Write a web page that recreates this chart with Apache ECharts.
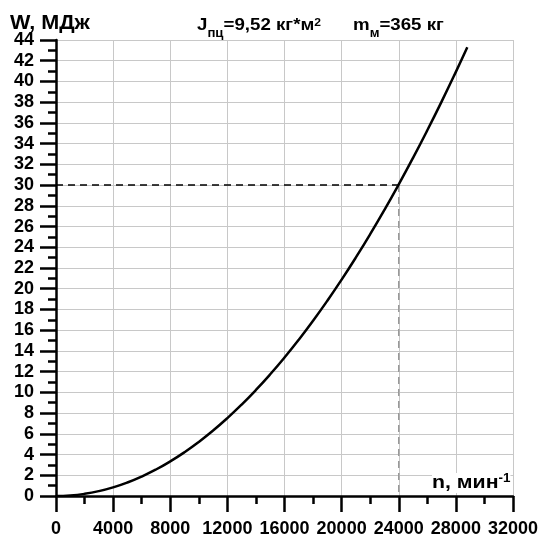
<!DOCTYPE html>
<html><head><meta charset="utf-8">
<script src="https://cdn.jsdelivr.net/npm/echarts@6/dist/echarts.min.js"></script>
<style>html,body{margin:0;padding:0;background:#fff}#c{width:539px;height:536px}</style>
</head><body><div id="c"></div>
<script>
// n, rpm
var speeds = [0,1000,2000,3000,4000,5000,6000,7000,8000,9000,10000,11000,12000,13000,14000,15000,16000,17000,18000,19000,20000,21000,22000,23000,24000,25000,26000,27000,28000,28800];
// W, MJ
var energy = [0,0.052,0.209,0.470,0.835,1.305,1.879,2.558,3.341,4.228,5.220,6.316,7.517,8.822,10.231,11.745,13.363,15.085,16.912,18.844,20.880,23.020,25.264,27.613,30.067,32.624,35.287,38.053,40.924,43.296];
var refPoint = [24000, 30];
var xTicks = {min:0, max:32000, step:4000};
var yTicks = {min:0, max:44, step:2};

var chart = echarts.init(document.getElementById('c'));
var curve = speeds.map(function(n,i){return [n, energy[i]];});
var F = '"Liberation Sans", Arial, sans-serif';
function rs(size, lh, va){
  return {fontFamily:F, fontWeight:'bold', fontSize:size, color:'#000', lineHeight:lh, verticalAlign:va};
}
chart.setOption({
  animation:false,
  grid:{left:56,right:26,top:40,bottom:40,outerBoundsMode:'none',containLabel:false},
  xAxis:{type:'value',min:xTicks.min,max:xTicks.max,interval:xTicks.step,
    axisLine:{onZero:false,lineStyle:{color:'#000',width:2.5}},
    axisTick:{length:16,lineStyle:{color:'#000',width:2.5}},
    minorTick:{show:true,splitNumber:2,length:8,lineStyle:{color:'#000',width:2.5}},
    axisLabel:{color:'#000',fontWeight:'bold',fontSize:18,fontFamily:F,margin:24,
      showMinLabel:true,showMaxLabel:true,hideOverlap:false,
      formatter:function(v){return String(v);}},
    splitLine:{show:true,lineStyle:{color:'#c8c8c8',width:1}}},
  yAxis:{type:'value',min:yTicks.min,max:yTicks.max,interval:yTicks.step,
    axisLine:{show:true,lineStyle:{color:'#000',width:2.5}},
    axisTick:{show:true,length:16,lineStyle:{color:'#000',width:2.5}},
    minorTick:{show:true,splitNumber:2,length:8,lineStyle:{color:'#000',width:2.5}},
    axisLabel:{color:'#000',fontWeight:'bold',fontSize:18,fontFamily:F,margin:22,
      showMinLabel:true,showMaxLabel:true,hideOverlap:false},
    splitLine:{show:true,lineStyle:{color:'#c8c8c8',width:1}}},
  series:[
    {type:'line',data:curve,showSymbol:false,smooth:true,lineStyle:{color:'#000',width:2.5},z:5},
    {type:'line',data:[[0,refPoint[1]],refPoint],showSymbol:false,lineStyle:{color:'#000',width:1.5,type:[7,5]},z:4},
    {type:'line',data:[refPoint,[refPoint[0],0]],showSymbol:false,lineStyle:{color:'#999',width:1.5,type:[7,5]},z:4}
  ],
  graphic:[
    {type:'text',x:10,y:13,scaleX:1.08,style:{text:'W, МДж',font:'bold 20px '+F,fill:'#000',verticalAlign:'top'}},
    {type:'text',x:197,y:17,scaleX:1.1,style:{
      text:'{a|J}{s|пц}{a|=9,52 кг*м}{p|2}',verticalAlign:'top',
      rich:{a:rs(17,20,'top'),s:rs(12,23,'bottom'),p:rs(11,14,'top')}}},
    {type:'text',x:353,y:17,scaleX:1.1,style:{
      text:'{a|m}{s|м}{a|=365 кг}',verticalAlign:'top',
      rich:{a:rs(17,20,'top'),s:rs(12,23,'bottom')}}},
    {type:'text',x:432,y:473,scaleX:1.12,z:10,style:{
      text:'{a|n, мин}{p|-1}',verticalAlign:'top',backgroundColor:'#fff',
      rich:{a:rs(19,20,'top'),p:rs(12,14,'top')}}}
  ]
});
</script></body></html>
